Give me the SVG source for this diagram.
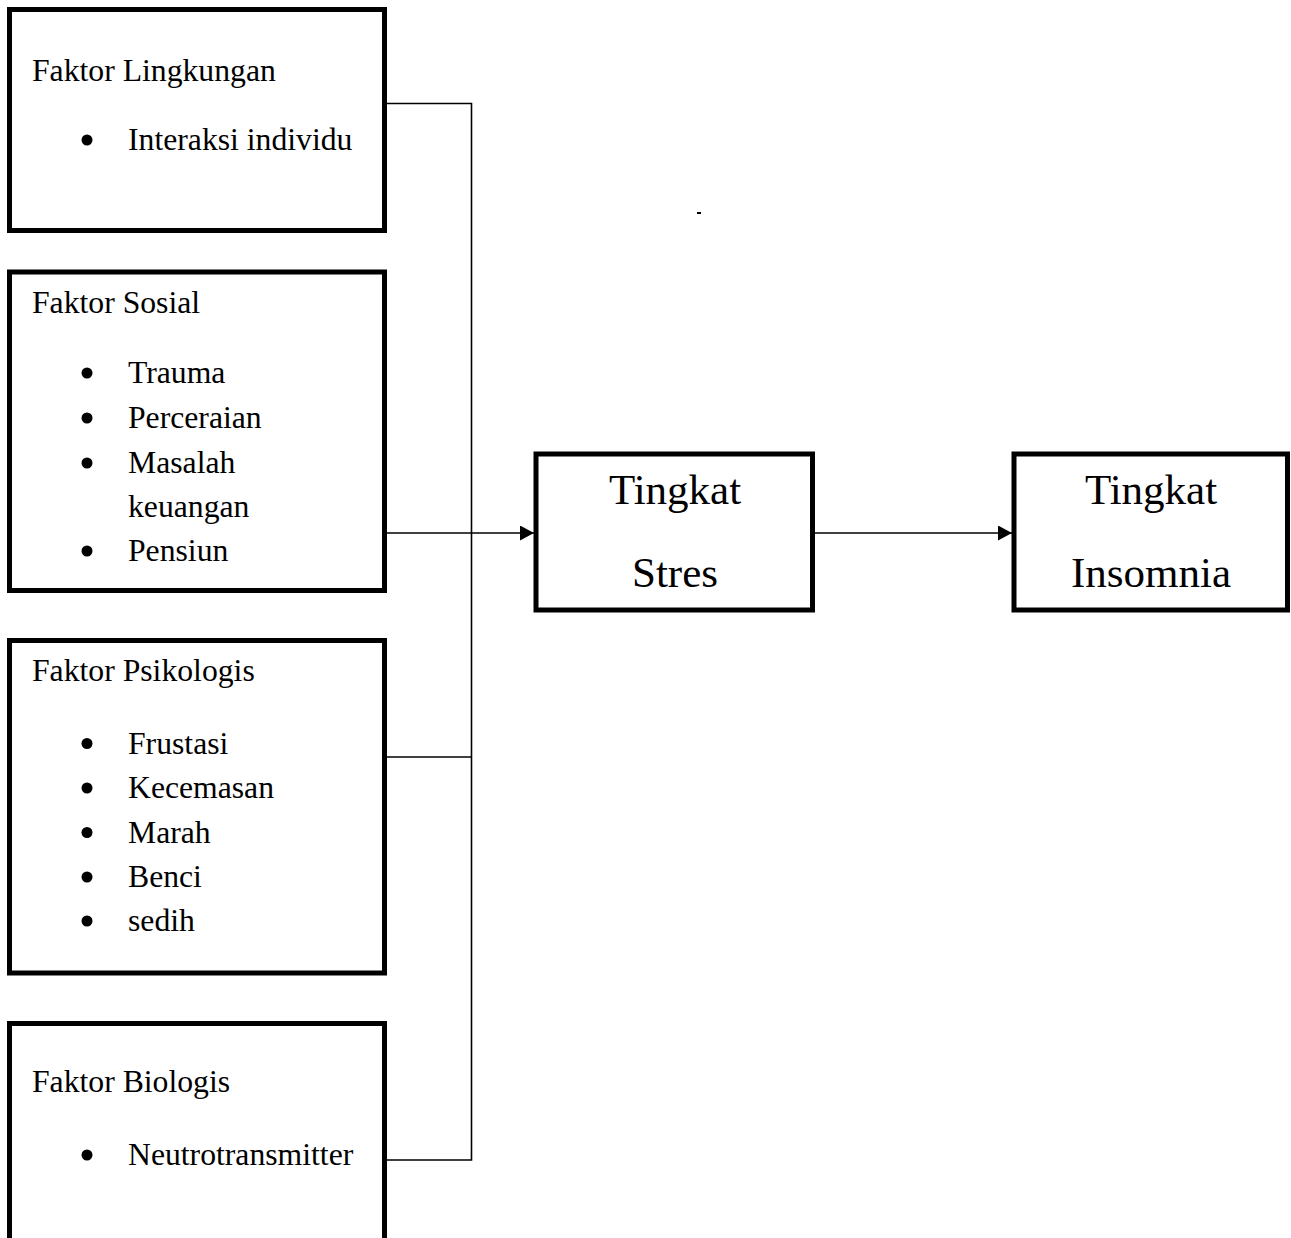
<svg xmlns="http://www.w3.org/2000/svg" width="1291" height="1238" viewBox="0 0 1291 1238">
  <style>
    .box { fill: #ffffff; stroke: #000000; stroke-width: 5; }
    .t { font-family: "Liberation Serif", "Times New Roman", serif; font-size: 31.7px; fill: #000000; }
    .big { font-family: "Liberation Serif", "Times New Roman", serif; font-size: 43px; fill: #000000; text-anchor: middle; }
    .bul { fill: #000000; }
    .conn { fill: none; stroke: #000000; stroke-width: 1.6; }
  </style>
  <defs>
    <marker id="arrow" markerUnits="userSpaceOnUse" markerWidth="15" markerHeight="16" refX="14" refY="7.5" orient="auto">
      <path d="M0,0 L14,7.5 L0,15 z" fill="#000000"/>
    </marker>
  </defs>
  <rect width="1291" height="1238" fill="#ffffff"/>

  <g id="connectors">
    <polyline class="conn" points="387,103.5 471.5,103.5 471.5,1160 387,1160"/>
    <line class="conn" x1="387" y1="757" x2="471.5" y2="757"/>
    <line class="conn" x1="387" y1="533" x2="534" y2="533" marker-end="url(#arrow)"/>
    <line class="conn" x1="815" y1="533" x2="1012" y2="533" marker-end="url(#arrow)"/>
  </g>

  <g id="faktor-lingkungan">
    <rect class="box" x="9.5" y="9.5" width="375" height="221"/>
    <text class="t" x="32" y="81">Faktor Lingkungan</text>
    <circle class="bul" cx="87" cy="140" r="5.5"/>
    <text class="t" x="128" y="150">Interaksi individu</text>
  </g>

  <g id="faktor-sosial">
    <rect class="box" x="9.5" y="272" width="375" height="318.5"/>
    <text class="t" x="32" y="313">Faktor Sosial</text>
    <circle class="bul" cx="87" cy="373" r="5.5"/>
    <text class="t" x="128" y="383">Trauma</text>
    <circle class="bul" cx="87" cy="418" r="5.5"/>
    <text class="t" x="128" y="428">Perceraian</text>
    <circle class="bul" cx="87" cy="463" r="5.5"/>
    <text class="t" x="128" y="473">Masalah</text>
    <text class="t" x="128" y="517">keuangan</text>
    <circle class="bul" cx="87" cy="551" r="5.5"/>
    <text class="t" x="128" y="561">Pensiun</text>
  </g>

  <g id="faktor-psikologis">
    <rect class="box" x="9.5" y="640.5" width="375" height="332.5"/>
    <text class="t" x="32" y="681">Faktor Psikologis</text>
    <circle class="bul" cx="87" cy="743.5" r="5.5"/>
    <text class="t" x="128" y="753.5">Frustasi</text>
    <circle class="bul" cx="87" cy="788" r="5.5"/>
    <text class="t" x="128" y="798">Kecemasan</text>
    <circle class="bul" cx="87" cy="832.5" r="5.5"/>
    <text class="t" x="128" y="842.5">Marah</text>
    <circle class="bul" cx="87" cy="877" r="5.5"/>
    <text class="t" x="128" y="887">Benci</text>
    <circle class="bul" cx="87" cy="921" r="5.5"/>
    <text class="t" x="128" y="931">sedih</text>
  </g>

  <g id="faktor-biologis">
    <rect class="box" x="9.5" y="1023.5" width="375" height="260"/>
    <text class="t" x="32" y="1092">Faktor Biologis</text>
    <circle class="bul" cx="87" cy="1155" r="5.5"/>
    <text class="t" x="128" y="1165">Neutrotransmitter</text>
  </g>

  <g id="tingkat-stres">
    <rect class="box" x="536" y="454" width="276.5" height="156"/>
    <text class="big" x="675" y="504">Tingkat</text>
    <text class="big" x="675" y="587">Stres</text>
  </g>

  <g id="tingkat-insomnia">
    <rect class="box" x="1014" y="454" width="273.5" height="156"/>
    <text class="big" x="1151" y="504">Tingkat</text>
    <text class="big" x="1151" y="587">Insomnia</text>
  </g>

  <rect x="697" y="212" width="4" height="2" fill="#000000"/>
</svg>
